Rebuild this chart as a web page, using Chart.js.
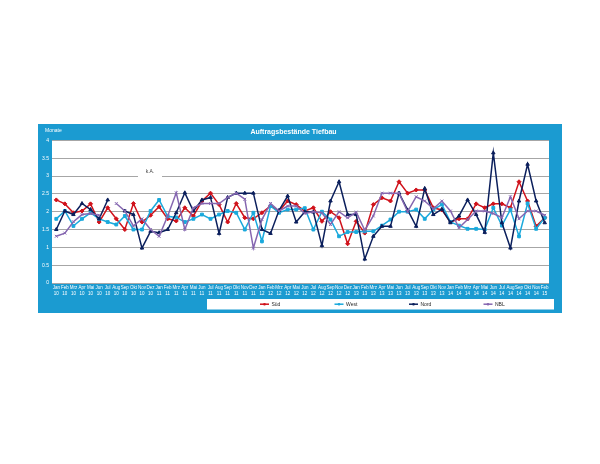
<!DOCTYPE html>
<html>
<head>
<meta charset="utf-8">
<title>Auftragsbestände Tiefbau</title>
<script src="https://cdn.jsdelivr.net/npm/chart.js@4.4.0/dist/chart.umd.min.js"></script>
<style>
body { margin: 0; background: #fff; }
#box { position: absolute; left: 38px; top: 124px; width: 524px; height: 189px; background: #1b9bd1; }
canvas { display: block; }
</style>
</head>
<body>
<div id="box"><canvas id="myChart" width="524" height="189"></canvas></div>
<script>
'use strict';

// Monate (Dez 13, Okt 12, Dez 14, Jan 15 fehlen in der Vorlage)
let monthLabels = [
    'Jan', 'Feb', 'Mrz', 'Apr', 'Mai', 'Jun', 'Jul', 'Aug', 'Sep', 'Okt', 'Nov', 'Dez',
    'Jan', 'Feb', 'Mrz', 'Apr', 'Mai', 'Jun', 'Jul', 'Aug', 'Sep', 'Okt', 'Nov', 'Dez',
    'Jan', 'Feb', 'Mrz', 'Apr', 'Mai', 'Jun', 'Jul', 'Aug', 'Sep', 'Nov', 'Dez',
    'Jan', 'Feb', 'Mrz', 'Apr', 'Mai', 'Jun', 'Jul', 'Aug', 'Sep', 'Okt', 'Nov',
    'Jan', 'Feb', 'Mrz', 'Apr', 'Mai', 'Jun', 'Jul', 'Aug', 'Sep', 'Okt', 'Nov',
    'Feb'
];
let yearLabels = [
    '10', '10', '10', '10', '10', '10', '10', '10', '10', '10', '10', '10',
    '11', '11', '11', '11', '11', '11', '11', '11', '11', '11', '11', '11',
    '12', '12', '12', '12', '12', '12', '12', '12', '12', '12', '12',
    '13', '13', '13', '13', '13', '13', '13', '13', '13', '13', '13',
    '14', '14', '14', '14', '14', '14', '14', '14', '14', '14', '14',
    '15'
];

let sued = [
    2.33, 2.22, 1.97, 2.02, 2.22, 1.71, 2.11, 1.80, 1.50, 2.23, 1.71, 1.90,
    2.14, 1.80, 1.74, 2.11, 1.88, 2.30, 2.52, 2.20, 1.71, 2.23, 1.83, 1.80,
    1.97, 2.16, 2.02, 2.30, 2.20, 2.02, 2.11, 1.73, 2.00, 1.83, 1.10,
    1.73, 1.40, 2.20, 2.39, 2.30, 2.84, 2.52, 2.61, 2.61, 2.11, 2.05,
    1.71, 1.80, 1.80, 2.22, 2.11, 2.22, 2.22, 2.11, 2.84, 2.30, 1.59,
    1.83
];
let west = [
    1.80, 2.02, 1.60, 1.80, 1.97, 1.80, 1.71, 1.64, 1.88, 1.50, 1.50, 2.02,
    2.33, 1.87, 1.84, 1.71, 1.80, 1.92, 1.80, 1.92, 2.02, 1.97, 1.50, 1.97,
    1.17, 2.16, 1.97, 2.06, 2.06, 2.10, 1.50, 2.00, 1.78, 1.31, 1.43,
    1.43, 1.45, 1.45, 1.61, 1.78, 2.00, 2.00, 2.06, 1.80, 2.06, 2.20,
    1.71, 1.61, 1.52, 1.52, 1.50, 2.11, 1.61, 2.06, 1.31, 2.23, 1.52,
    1.83
];
let nord = [
    1.50, 2.02, 1.92, 2.23, 2.06, 1.80, 2.33, null, 2.02, 1.92, 0.98, 1.45,
    1.41, 1.50, 1.97, 2.53, 2.02, 2.33, 2.40, 1.39, 2.40, 2.52, 2.52, 2.52,
    1.50, 1.39, 2.04, 2.44, 1.71, 2.00, 1.99, 1.05, 2.30, 2.84, 1.92,
    1.92, 0.67, 1.31, 1.59, 1.59, 2.52, 2.05, 1.59, 2.65, 1.92, 2.07,
    1.69, 1.88, 2.33, 1.92, 1.42, 3.65, 1.69, 0.98, 2.30, 3.33, 2.30,
    1.69
];
let nbl = [
    1.31, 1.40, 1.72, 1.92, 1.95, 1.90, null, 2.23, 2.02, 1.60, 1.80, 1.50,
    1.31, 1.88, 2.53, 1.50, 2.11, 2.23, 2.23, 2.23, 2.40, 2.52, 2.35, 0.98,
    1.78, 2.23, 2.02, 2.16, 2.16, 1.95, 2.00, 1.97, 1.64, 2.00, 1.83,
    1.99, 1.48, 1.88, 2.52, 2.52, 2.52, 2.00, 2.42, 2.30, 2.08, 2.30,
    2.02, 1.55, 1.78, 2.02, 2.02, 1.95, 1.83, 2.42, 1.80, 2.02, 2.02,
    1.90
];

let seriesNames = ['Süd', 'West', 'Nord', 'NBL'];
let seriesColors = ['#d0121b', '#1aa9dc', '#0b1f5c', '#8566b0'];
let seriesMarkers = ['rectRot', 'rect', 'triangle', 'crossRot'];
let yTickLabels = ['0', '0.5', '1', '1.5', '2', '2.5', '3', '3.5', '4'];

let fontName = '"Liberation Sans", Arial, sans-serif';
let labels = monthLabels.map((m, i) => [m, yearLabels[i]]);

function makeSet(idx, values) {
    return {
        label: seriesNames[idx],
        data: values,
        borderColor: seriesColors[idx],
        backgroundColor: seriesColors[idx],
        borderWidth: 1.5,
        pointStyle: seriesMarkers[idx],
        pointRadius: 2,
        pointBorderWidth: 1,
        spanGaps: false,
        tension: 0,
        order: 3 - idx
    };
}

// weißer Plotbereich, "k.A."-Hinweis, "Monate" und die Legende
let chartDeco = {
    id: 'chartDeco',
    beforeDraw(chart) {
        let ctx = chart.ctx;
        let a = chart.chartArea;
        ctx.save();
        ctx.fillStyle = '#ffffff';
        ctx.fillRect(a.left, a.top, a.right - a.left, a.bottom - a.top);
        ctx.fillStyle = '#ffffff';
        ctx.font = '5px ' + fontName;
        ctx.textBaseline = 'middle';
        ctx.fillText('Monate', 7, 7);
        ctx.restore();
    },
    beforeDatasetsDraw(chart) {
        let ctx = chart.ctx;
        ctx.save();
        ctx.fillStyle = '#ffffff';
        ctx.fillRect(100, 43, 24, 12);
        ctx.fillStyle = '#404040';
        ctx.font = '5px ' + fontName;
        ctx.textAlign = 'center';
        ctx.textBaseline = 'middle';
        ctx.fillText('k.A.', 112, 48);
        ctx.restore();
    },
    afterDraw(chart) {
        let ctx = chart.ctx;
        ctx.save();
        ctx.fillStyle = '#ffffff';
        ctx.fillRect(169, 175, 347, 10.5);
        let y = 180.2;
        chart.data.datasets.forEach((ds, i) => {
            let x = 222 + i * 74.5;
            ctx.strokeStyle = ds.borderColor;
            ctx.lineWidth = 1.5;
            ctx.beginPath();
            ctx.moveTo(x, y);
            ctx.lineTo(x + 9, y);
            ctx.stroke();
            ctx.fillStyle = ds.borderColor;
            ctx.beginPath();
            ctx.arc(x + 4.5, y, 1.3, 0, Math.PI * 2);
            ctx.fill();
            ctx.fillStyle = '#262626';
            ctx.font = '5px ' + fontName;
            ctx.textBaseline = 'middle';
            ctx.fillText(ds.label, x + 11.5, y + 0.3);
        });
        ctx.restore();
    }
};

let ctx = document.getElementById('myChart').getContext('2d');
let myChart = new Chart(ctx, {
    type: 'line',
    data: {
        labels: labels,
        datasets: [
            makeSet(0, sued),
            makeSet(1, west),
            makeSet(2, nord),
            makeSet(3, nbl)
        ]
    },
    options: {
        responsive: false,
        animation: false,
        layout: { padding: { left: 0, right: 13, top: 0, bottom: 16 } },
        plugins: {
            legend: { display: false },
            tooltip: { enabled: false },
            title: {
                display: true,
                text: 'Auftragsbestände Tiefbau',
                color: '#ffffff',
                font: { family: fontName, size: 7, weight: 'bold' },
                padding: { top: 4, bottom: 4 }
            }
        },
        scales: {
            x: {
                offset: true,
                grid: { display: false, drawTicks: false },
                border: { display: false },
                ticks: {
                    autoSkip: false,
                    maxRotation: 0,
                    minRotation: 0,
                    padding: 2,
                    color: '#ffffff',
                    font: { family: fontName, size: 4.5, lineHeight: 1.25 }
                },
                afterFit(scale) { scale.height = 14; }
            },
            y: {
                min: 0,
                max: 4,
                grid: { color: '#a6a6a6', lineWidth: 1, drawTicks: false },
                border: { display: false },
                ticks: {
                    stepSize: 0.5,
                    padding: 3,
                    color: '#ffffff',
                    font: { family: fontName, size: 5 },
                    callback: (value, index) => yTickLabels[index]
                },
                afterFit(scale) { scale.width = 14; }
            }
        }
    },
    plugins: [chartDeco]
});
</script>
</body>
</html>
